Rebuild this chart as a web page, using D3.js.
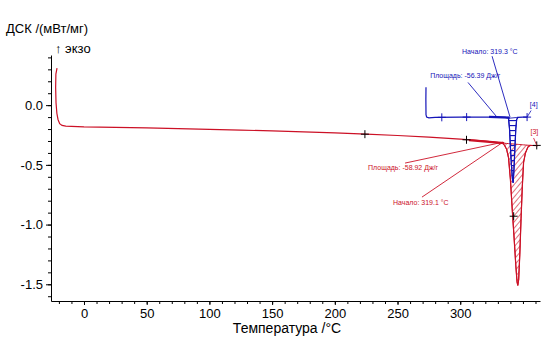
<!DOCTYPE html>
<html>
<head>
<meta charset="utf-8">
<script src="https://cdn.jsdelivr.net/npm/d3@7"></script>
<style>
  body { margin: 0; background: #fff; }
  svg { font-family: "Liberation Sans", Arial, sans-serif; }
  .axis path, .axis line { stroke: #000; }
  .axis text { font-size: 13px; fill: #000; }
</style>
</head>
<body>
<div id="chart"></div>
<script>
// DSC curve (red), temperature /°C and signal /(mW/mg)
var redTemp = [-21.5, -22.4, -22.6, -22.3, -21.6, -20.7, -19.4, -17.5, -14.5, -10, 0, 25, 50, 75, 100, 125, 150, 175, 200, 225, 250, 275, 300, 320, 334,
  335.5, 337, 338.5, 340, 341.5, 343, 344.3, 345.3, 345.9, 346.6, 347.5, 348.5, 349.5, 350.5, 352, 354, 355.7, 358, 362];
var redValue = [0.31, 0.26, 0.15, 0.02, -0.07, -0.12, -0.155, -0.17, -0.176, -0.178, -0.182, -0.186, -0.19, -0.196, -0.202, -0.209, -0.216, -0.223, -0.232, -0.243, -0.254, -0.268, -0.285, -0.3, -0.318,
  -0.34, -0.37, -0.44, -0.62, -0.88, -1.12, -1.34, -1.48, -1.51, -1.46, -1.25, -0.95, -0.68, -0.48, -0.4, -0.35, -0.337, -0.338, -0.34];

// second curve (blue)
var blueTemp = [272.7, 272.6, 272.7, 273.2, 275, 280, 300, 320, 330, 336, 338.5, 339.3, 340, 340.8, 341.6, 342.2, 342.8, 343.5, 344.3, 345, 346, 350, 353.3];
var blueValue = [0.15, 0.05, -0.08, -0.1, -0.107, -0.103, -0.1, -0.1, -0.1, -0.102, -0.11, -0.2, -0.35, -0.5, -0.62, -0.65, -0.55, -0.38, -0.2, -0.12, -0.102, -0.1, -0.1];

// integration limits of the peaks
var redPeak = [334, 355.7];
var bluePeak = [338, 346];

var xTicks = [0, 50, 100, 150, 200, 250, 300];
var yTicks = [0.0, -0.5, -1.0, -1.5];

// annotations: text position, leader start, leader end (data coords)
var redNotes = [
  { text: "Площадь: -58.92 Дж/г", tx: 226.5, ty: -0.54, x1: 256, y1: -0.485, x2: 334.1, y2: -0.31 },
  { text: "Начало: 319.1 °C", tx: 246.4, ty: -0.835, x1: 269.5, y1: -0.77, x2: 334.1, y2: -0.31 }
];
var blueNotes = [
  { text: "Начало: 319.3 °C", tx: 301.4, ty: 0.427, x1: 325.4, y1: 0.41, x2: 339.7, y2: -0.1 },
  { text: "Площадь: -56.39 Дж/г", tx: 276, ty: 0.226, x1: 306.2, y1: 0.19, x2: 329.3, y2: -0.1 }
];
var redCross = [[224, -0.243], [305, -0.29], [342.6, -0.93], [361, -0.337]];
var blueCross = [[285.3, -0.102], [305.1, -0.1], [353.3, -0.1]];

var RED = "#cc1126", BLUE = "#1414b8";
var width = 552, height = 346;

var svg = d3.select("#chart").append("svg").attr("width", width).attr("height", height);

var x = d3.scaleLinear().domain([-26.3, 363.6]).range([51, 540]);
var y = d3.scaleLinear().domain([-1.64, 0.42]).range([301, 55]);

var defs = svg.append("defs");
defs.append("pattern").attr("id", "hatchRed").attr("patternUnits", "userSpaceOnUse")
  .attr("width", 4).attr("height", 4).attr("patternTransform", "rotate(40)")
  .append("line").attr("x1", 0).attr("y1", 0).attr("x2", 0).attr("y2", 4)
  .attr("stroke", RED).attr("stroke-width", 1.2);
defs.append("pattern").attr("id", "hatchBlue").attr("patternUnits", "userSpaceOnUse")
  .attr("width", 20).attr("height", 5)
  .append("line").attr("x1", 0).attr("y1", 0.5).attr("x2", 20).attr("y2", 0.5)
  .attr("stroke", BLUE).attr("stroke-width", 1.3);

// axes
var xMinor = d3.range(-20, 361, 10);
svg.append("g").attr("class", "axis").attr("transform", "translate(0,301)")
  .call(d3.axisBottom(x).tickValues(xMinor).tickSize(3).tickFormat(""))
  .select(".domain").remove();
svg.append("g").attr("class", "axis").attr("transform", "translate(0,301)")
  .call(d3.axisBottom(x).tickValues(xTicks).tickSize(4).tickPadding(4).tickSizeOuter(0));

var yMinor = d3.range(-16, 5).map(function (d) { return d / 10; });
svg.append("g").attr("class", "axis").attr("transform", "translate(51,0)")
  .call(d3.axisLeft(y).tickValues(yMinor).tickSize(3).tickFormat(""))
  .select(".domain").remove();
svg.append("g").attr("class", "axis").attr("transform", "translate(51,0)")
  .call(d3.axisLeft(y).tickValues(yTicks).tickSize(5).tickPadding(3).tickSizeOuter(0).tickFormat(d3.format(".1f")));
svg.selectAll(".axis text").text(function () { return this.textContent.replace("−", "-"); });

svg.append("text").attr("x", 6).attr("y", 33).attr("font-size", "13px").text("ДСК /(мВт/мг)");
svg.append("text").attr("x", 55).attr("y", 53).attr("font-size", "13px").text("↑ экзо");
svg.append("text").attr("x", 287).attr("y", 333).attr("text-anchor", "middle").attr("font-size", "14px").text("Температура /°C");

function toPoints(ts, vs) { return ts.map(function (t, i) { return [t, vs[i]]; }); }
var redData = toPoints(redTemp, redValue);
var blueData = toPoints(blueTemp, blueValue);

function peakArea(data, lim, fill, stroke) {
  var inside = data.filter(function (d) { return d[0] >= lim[0] && d[0] <= lim[1]; });
  var a = inside[0], b = inside[inside.length - 1];
  var base = d3.scaleLinear().domain([a[0], b[0]]).range([a[1], b[1]]);
  svg.append("path").datum(inside)
    .attr("d", d3.area().x(function (d) { return x(d[0]); })
      .y0(function (d) { return y(base(d[0])); })
      .y1(function (d) { return y(d[1]); }))
    .attr("fill", fill).attr("stroke", stroke).attr("stroke-width", 1);
}
peakArea(redData, redPeak, "url(#hatchRed)", RED);
peakArea(blueData, bluePeak, "url(#hatchBlue)", BLUE);

var line = d3.line().x(function (d) { return x(d[0]); }).y(function (d) { return y(d[1]); });
svg.append("path").datum(redData).attr("d", line).attr("fill", "none").attr("stroke", RED).attr("stroke-width", 1.2);
svg.append("path").datum(blueData).attr("d", line).attr("fill", "none").attr("stroke", BLUE).attr("stroke-width", 1.2);

// tangents at onset
svg.append("line").attr("x1", x(307)).attr("y1", y(-0.293)).attr("x2", x(335)).attr("y2", y(-0.318))
  .attr("stroke", RED).attr("stroke-width", 2.2);
svg.append("line").attr("x1", x(323)).attr("y1", y(-0.098)).attr("x2", x(339.5)).attr("y2", y(-0.104))
  .attr("stroke", BLUE).attr("stroke-width", 2.2);

function notes(list, color) {
  list.forEach(function (n) {
    svg.append("line").attr("x1", x(n.x1)).attr("y1", y(n.y1)).attr("x2", x(n.x2)).attr("y2", y(n.y2))
      .attr("stroke", color).attr("stroke-width", 0.9);
    svg.append("text").attr("x", x(n.tx)).attr("y", y(n.ty)).attr("font-size", "7px").attr("fill", color).text(n.text);
  });
}
notes(redNotes, RED);
notes(blueNotes, BLUE);

function crosses(list, color) {
  list.forEach(function (c) {
    var cx = x(c[0]), cy = y(c[1]);
    svg.append("path").attr("d", "M" + (cx - 4) + "," + cy + "H" + (cx + 4) + "M" + cx + "," + (cy - 4) + "V" + (cy + 4))
      .attr("stroke", color).attr("stroke-width", 1);
  });
}
crosses(redCross, "#000");
crosses(blueCross, BLUE);

// segment labels
svg.append("text").attr("x", x(356)).attr("y", y(-0.245)).attr("font-size", "7px").attr("fill", RED).text("[3]");
svg.append("line").attr("x1", x(358.5)).attr("y1", y(-0.275)).attr("x2", x(361)).attr("y2", y(-0.337)).attr("stroke", RED).attr("stroke-width", 0.8);
svg.append("text").attr("x", x(355.5)).attr("y", y(-0.015)).attr("font-size", "7px").attr("fill", BLUE).text("[4]");
svg.append("line").attr("x1", x(356.5)).attr("y1", y(-0.045)).attr("x2", x(353.3)).attr("y2", y(-0.1)).attr("stroke", BLUE).attr("stroke-width", 0.8);
</script>
</body>
</html>
